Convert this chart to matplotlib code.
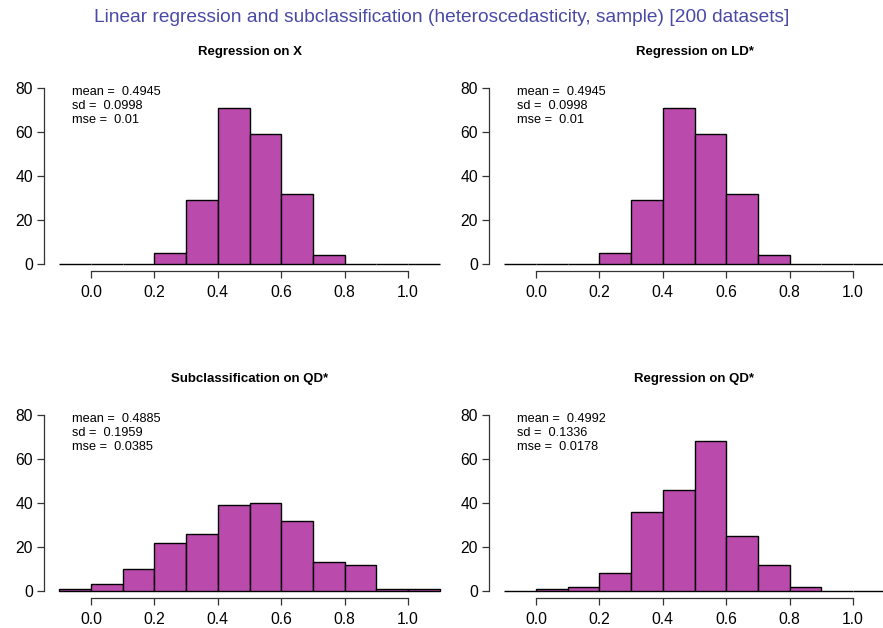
import numpy as np
import matplotlib
matplotlib.use("Agg")
import matplotlib.pyplot as plt

plt.rcParams["font.family"] = ["Liberation Sans", "DejaVu Sans"]

# histogram bins (width 0.1) and counts for each panel
edges = np.round(np.arange(-0.1, 1.11, 0.1), 2)
counts_x = [0, 0, 0, 5, 29, 71, 59, 32, 4, 0, 0, 0]
counts_ld = [0, 0, 0, 5, 29, 71, 59, 32, 4, 0, 0, 0]
counts_subqd = [1, 3, 10, 22, 26, 39, 40, 32, 13, 12, 1, 1]
counts_regqd = [0, 1, 2, 8, 36, 46, 68, 25, 12, 2, 0, 0]

titles = ["Regression on X", "Regression on LD*",
          "Subclassification on QD*", "Regression on QD*"]
stats = [("0.4945", "0.0998", "0.01"),
         ("0.4945", "0.0998", "0.01"),
         ("0.4885", "0.1959", "0.0385"),
         ("0.4992", "0.1336", "0.0178")]
all_counts = [counts_x, counts_ld, counts_subqd, counts_regqd]

W, H = 883, 628
fig = plt.figure(figsize=(W / 100, H / 100), dpi=100)
fig.text(0.5, 1 - 18 / H, "Linear regression and subclassification "
         "(heteroscedasticity, sample) [200 datasets]",
         ha="center", va="center", fontsize=13.8, color="#4a4aa6")

# axes boxes in pixels: left, bottom(y px of bottom edge)
boxes = [(44, 271), (489, 271), (44, 598), (489, 598)]
bar_col = "#bb4aad"

for i, (counts, title, st) in enumerate(zip(all_counts, titles, stats)):
    lpx, bpx = boxes[i]
    ax = fig.add_axes([lpx / W, 1 - bpx / H, 411 / W, 190 / H])
    ax.bar(edges[:-1], counts, width=0.1, align="edge", color=bar_col,
           edgecolor="black", linewidth=1.0)
    ax.set_xlim(-0.148, 1.148)
    ax.set_ylim(-3.2, 83.2)
    for s in ["top", "right"]:
        ax.spines[s].set_visible(False)
    ax.spines["left"].set_bounds(0, 80)
    ax.spines["bottom"].set_bounds(0, 1)
    for s in ["left", "bottom"]:
        ax.spines[s].set_linewidth(0.9)
        ax.spines[s].set_color("#333333")
    ax.set_xticks([0.0, 0.2, 0.4, 0.6, 0.8, 1.0])
    ax.set_xticklabels(["0.0", "0.2", "0.4", "0.6", "0.8", "1.0"])
    ax.set_yticks([0, 20, 40, 60, 80])
    ax.tick_params(axis="both", length=5, width=0.9, color="#333333",
                   labelsize=11.3)
    ax.tick_params(axis="x", pad=5)
    ax.tick_params(axis="y", pad=3)
    ax.patch.set_visible(False)
    ax.set_title(title, fontsize=9.5, fontweight="bold", pad=19)
    ax.text(-0.06, 78, f"mean =  {st[0]}", fontsize=9.2, va="center")
    ax.text(-0.06, 71.8, f"sd =  {st[1]}", fontsize=9.2, va="center")
    ax.text(-0.06, 65.6, f"mse =  {st[2]}", fontsize=9.2, va="center")

fig.savefig("out.png", dpi=100)
